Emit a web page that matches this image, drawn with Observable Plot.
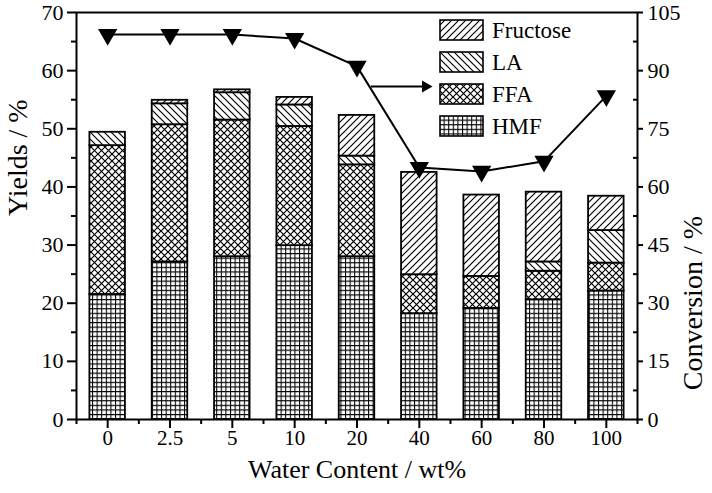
<!DOCTYPE html>
<html><head><meta charset="utf-8">
<script src="https://cdn.jsdelivr.net/npm/d3@7"></script>
<script src="https://cdn.jsdelivr.net/npm/@observablehq/plot@0.6"></script>
<style>
body{margin:0;background:#fff;}
#wrap{position:relative;width:712px;height:493px;font-family:"Liberation Serif","DejaVu Serif","Liberation Sans",Arial,sans-serif;color:#000;}
#wrap svg text{font-family:"Liberation Serif","DejaVu Serif","Liberation Sans",Arial,sans-serif;}
#legend{position:absolute;left:439px;top:14px;}
.row{display:flex;align-items:center;height:32px;}
.row svg{margin-right:8px;display:block}
.row span{font-size:23px;line-height:1}
</style></head><body><div id="wrap"><div id="legend"></div></div>
<script>
// ---- data ----
const categories = ["0", "2.5", "5", "10", "20", "40", "60", "80", "100"];
const hmf      = [21.5, 27.1, 28.0, 29.9, 28.0, 18.2, 19.1, 20.6, 22.1];
const ffa      = [25.6, 23.6, 23.5, 20.5, 15.8, 6.7, 5.5, 4.9, 4.8];
const la       = [2.3, 3.6, 4.7, 3.7, 1.5, 0, 0, 1.6, 5.6];
const fructose = [0, 0.6, 0.5, 1.3, 7.0, 17.6, 14.0, 12.0, 5.9];
const conversion = [99.3, 99.3, 99.3, 98.3, 91.1, 65.0, 64.0, 66.6, 83.5];
const seriesKeys = ["hmf", "ffa", "la", "fructose"];
const seriesNames = ["HMF", "FFA", "LA", "Fructose"];
const yTicks = [0, 10, 20, 30, 40, 50, 60, 70];
const yMinor = [5, 15, 25, 35, 45, 55, 65];
const convTicks = [0, 15, 30, 45, 60, 75, 90, 105];
const arrowFrom = {x: 4.22, conv: 85.9};
const arrowTo = {x: 5.1, conv: 85.9};

// ---- build ----
const values = {hmf, ffa, la, fructose};
const convMax = 105, yMax = 70;
const table = [];
categories.forEach((c, i) => {
  let base = 0;
  seriesKeys.forEach(k => {
    const v = values[k][i];
    table.push({i, key: k, y1: base, y2: base + v, v});
    base += v;
  });
});
const convData = conversion.map((v, i) => ({i, y: v * yMax / convMax}));

function patterns() {
  const defs = d3.create("svg:defs");
  const add = (id, size, d, sw) => {
    const p = defs.append("pattern").attr("id", id).attr("patternUnits", "userSpaceOnUse")
      .attr("width", size).attr("height", size);
    p.append("rect").attr("width", size).attr("height", size).attr("fill", "white");
    p.append("path").attr("d", d).attr("stroke", "black").attr("stroke-width", sw).attr("fill", "none");
  };
  add("p-hmf", 4.6, "M0,0.5H4.6M0.5,0V4.6", 1.1);
  add("p-ffa", 7, "M-1,-1L8,8M8,-1L-1,8", 1.2);
  add("p-fructose", 7, "M-1,8L8,-1M-1,1L1,-1M6,8L8,6", 1.2);
  add("p-la", 7, "M-1,-1L8,8M6,-1L8,1M-1,6L1,8", 1.2);
  return defs.node();
}

const font = '"Liberation Serif", "DejaVu Serif", "Liberation Sans", Arial, sans-serif';
const marks = [patterns];
seriesKeys.forEach(k => {
  marks.push(Plot.rect(table.filter(d => d.key === k && d.v > 0), {
    x1: d => d.i - 0.285, x2: d => d.i + 0.285, y1: "y1", y2: "y2",
    fill: `url(#p-${k})`, stroke: "black", strokeWidth: 1.8
  }));
});
marks.push(
  Plot.line(convData, {x: "i", y: "y", stroke: "black", strokeWidth: 2}),
  Plot.dot(convData, {x: "i", y: "y", symbol: "triangle", rotate: 180, r: 6.2, fill: "black", stroke: "black"}),
  Plot.link([{}], {x1: () => arrowFrom.x, y1: () => arrowFrom.conv * yMax / convMax,
                   x2: () => arrowTo.x, y2: () => arrowTo.conv * yMax / convMax, stroke: "black", strokeWidth: 2}),
  Plot.dot([{}], {x: () => arrowTo.x, y: () => arrowTo.conv * yMax / convMax, symbol: "triangle", rotate: 90, r: 4.5, fill: "black"}),
  Plot.frame({stroke: "black", strokeWidth: 2}),
  Plot.axisY({ticks: yTicks, tickSize: 9, tickPadding: 4, strokeWidth: 2, fontSize: 22, label: null}),
  Plot.axisY({ticks: yMinor, tickSize: 5, strokeWidth: 2, text: null, label: null}),
  Plot.axisY({anchor: "right", ticks: yTicks, tickFormat: d => convTicks[yTicks.indexOf(d)], tickSize: 5, tickPadding: 5, strokeWidth: 2, fontSize: 22, label: null}),
  Plot.axisY({anchor: "right", ticks: yMinor, tickSize: -5, strokeWidth: 2, text: null, label: null}),
  Plot.axisX({ticks: d3.range(categories.length), tickFormat: i => categories[i], tickSize: 9, tickPadding: 2, strokeWidth: 2, fontSize: 21, label: null}),
  Plot.axisX({ticks: d3.range(-0.5, categories.length, 1), tickSize: 5, strokeWidth: 2, text: null, label: null}),
  Plot.text(["Water Content / wt%"], {frameAnchor: "bottom", dy: 58, fontSize: 26, fontFamily: font}),
  Plot.text(["Yields / %"], {frameAnchor: "left", rotate: -90, dx: -58, fontSize: 28, fontFamily: font}),
  Plot.text(["Conversion / %"], {frameAnchor: "right", rotate: -90, dx: 56, fontSize: 28, fontFamily: font})
);

const chart = Plot.plot({
  width: 712, height: 493,
  marginTop: 12, marginBottom: 74, marginLeft: 76, marginRight: 75,
  style: {fontFamily: font, fontSize: "22px", color: "black", background: "white", overflow: "visible"},
  x: {domain: [-0.5, 8.5], axis: null},
  y: {domain: [0, yMax], axis: null},
  marks
});
document.getElementById("wrap").prepend(chart);

// legend (top to bottom: Fructose, LA, FFA, HMF)
const legend = d3.select("#legend");
[...seriesKeys].reverse().forEach(k => {
  const row = legend.append("div").attr("class", "row");
  const s = row.append("svg").attr("width", 45).attr("height", 22);
  s.append("rect").attr("x", 1).attr("y", 1).attr("width", 43).attr("height", 20)
    .attr("fill", `url(#p-${k})`).attr("stroke", "black").attr("stroke-width", 1.6);
  row.append("span").text(seriesNames[seriesKeys.indexOf(k)]);
});
</script>
</body></html>
